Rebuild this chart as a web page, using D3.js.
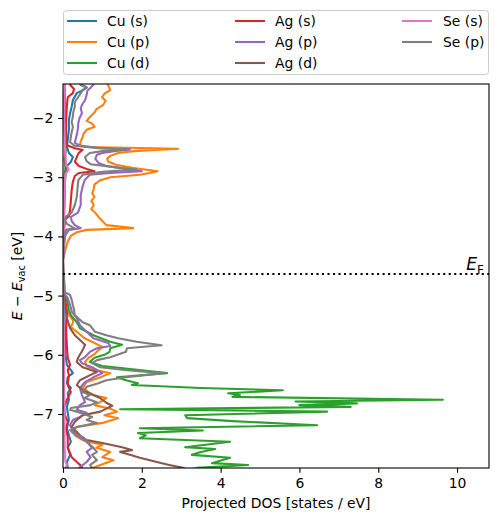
<!DOCTYPE html>
<html><head><meta charset="utf-8">
<script src="https://cdn.jsdelivr.net/npm/d3@7"></script>
<style>
body{margin:0;background:#fff;}
svg text{font-family:"DejaVu Sans",sans-serif;fill:#000;}
</style></head><body>
<svg id="chart" width="498" height="522"></svg>
<script>
// ---------------- data (energy in eV, projected DOS in states/eV) ----------------
const seriesNames  = ["Cu (s)","Cu (p)","Cu (d)","Ag (s)","Ag (p)","Ag (d)","Se (s)","Se (p)"];
const seriesColors = ["#1f77b4","#ff7f0e","#2ca02c","#d62728","#9467bd","#8c564b","#e377c2","#7f7f7f"];
const xTicks = [0,2,4,6,8,10];
const yTicks = [-7,-6,-5,-4,-3,-2];
const xDomain = [0, 10.81];
const yDomain = [-7.912, -1.426];
const fermiLevel = -4.635;

const cuS_E   = [-1.38,-1.44,-1.49,-1.53,-1.58,-1.70,-1.81,-1.92,-2.03,-2.20,-2.37,-2.49,-2.59,-2.66,-2.74,-2.83,-2.91,-3.05,-3.39,-3.89,-4.40,
                 -4.94,-5.07,-5.41,-5.75,-6.00,-6.17,-6.26,-6.31,-6.38,-6.48,-6.56,-6.65,-6.76,-6.88,-6.98,-7.10,-7.24,-7.36,-7.47,-7.57,-7.69,-7.81,-7.91,-7.98];
const cuS_dos = [0.40,0.45,0.60,0.50,0.35,0.25,0.22,0.18,0.15,0.15,0.12,0.10,0.15,0.25,0.20,0.08,0.05,0.03,0.03,0.02,0.00,
                 0.00,0.02,0.04,0.05,0.06,0.10,0.20,0.25,0.12,0.10,0.20,0.12,0.15,0.10,0.12,0.15,0.10,0.15,0.20,0.12,0.18,0.10,0.12,0.10];

const cuP_E   = [-1.36,-1.44,-1.53,-1.59,-1.65,-1.71,-1.78,-1.85,-1.90,-1.98,-2.05,-2.10,-2.15,-2.20,-2.27,-2.32,-2.39,-2.46,-2.49,-2.52,-2.56,-2.59,-2.64,-2.69,-2.74,-2.79,-2.84,-2.90,-2.93,-2.96,-3.00,-3.05,-3.12,-3.20,-3.27,-3.33,-3.40,-3.47,-3.54,-3.60,-3.67,-3.74,-3.81,-3.86,-3.89,-3.93,-3.99,-4.09,-4.23,-4.40,
                 -4.94,-5.07,-5.24,-5.33,-5.41,-5.46,-5.53,-5.61,-5.72,-5.80,-5.87,-5.92,-5.99,-6.05,-6.12,-6.19,-6.26,-6.31,-6.38,-6.46,-6.56,-6.63,-6.68,-6.73,-6.80,-6.85,-6.91,-6.96,-7.02,-7.07,-7.15,-7.22,-7.27,-7.36,-7.44,-7.47,-7.52,-7.57,-7.64,-7.73,-7.78,-7.86,-7.91,-7.98];
const cuP_dos = [1.10,1.14,1.20,1.05,0.99,1.08,1.02,0.85,0.81,0.69,0.60,0.75,0.80,0.60,0.52,0.50,0.45,0.43,0.60,2.92,1.80,1.40,1.20,1.12,1.15,1.35,1.75,2.40,2.20,1.95,1.20,0.95,0.80,0.78,0.74,0.80,0.72,0.78,0.72,0.82,0.90,1.00,1.10,1.78,0.60,0.35,0.20,0.12,0.06,0.00,
                 0.00,0.05,0.10,0.15,0.25,0.25,0.20,0.35,0.55,0.80,1.00,0.90,0.80,0.65,0.56,0.60,0.86,1.20,0.95,0.60,0.50,0.65,0.77,1.10,0.94,0.80,1.20,1.37,1.05,1.40,1.00,0.35,0.25,0.30,0.50,0.65,1.00,0.85,1.20,1.00,1.28,0.95,0.75,0.70];

const cuD_E   = [-1.38,-1.80,-2.20,-2.52,-2.70,-2.90,-3.20,-3.60,-4.00,-4.40,
                 -4.91,-4.99,-5.07,-5.24,-5.33,-5.45,-5.55,-5.67,-5.78,-5.83,-5.89,-5.95,-6.00,-6.05,-6.12,-6.19,-6.26,-6.31,-6.38,-6.43,-6.48,-6.51,-6.56,-6.60,-6.65,-6.68,-6.71,-6.76,-6.79,-6.82,-6.85,-6.88,-6.92,-6.96,-7.02,-7.07,-7.12,-7.19,-7.24,-7.28,-7.32,-7.36,-7.41,-7.47,-7.56,-7.59,-7.64,-7.69,-7.74,-7.83,-7.86,-7.91,-7.98];
const cuD_dos = [0.05,0.04,0.04,0.07,0.05,0.07,0.04,0.03,0.02,0.00,
                 0.00,0.05,0.10,0.15,0.20,0.35,0.43,0.77,1.20,1.50,1.20,1.18,1.05,0.80,0.68,1.00,2.00,2.64,1.37,1.60,1.90,1.75,3.50,5.58,4.19,4.49,4.30,9.64,5.90,7.46,6.00,7.30,1.45,6.70,3.10,3.15,4.30,6.45,1.95,3.55,1.90,2.10,1.95,4.24,3.10,3.86,3.50,3.27,4.24,3.78,4.70,3.40,3.00];

const agS_E   = [-1.36,-1.44,-1.51,-1.58,-1.65,-1.78,-2.03,-2.29,-2.46,-2.51,-2.54,-2.59,-2.66,-2.74,-2.81,-2.86,-2.90,-2.93,-2.98,-3.08,-3.22,-3.39,-3.55,-3.66,-3.72,-3.89,-4.15,-4.40,
                 -4.94,-5.07,-5.29,-5.58,-5.87,-6.05,-6.17,-6.26,-6.34,-6.51,-6.63,-6.76,-6.88,-7.02,-7.13,-7.24,-7.39,-7.56,-7.66,-7.73,-7.81,-7.88,-7.95];
const agS_dos = [0.20,0.18,0.28,0.25,0.12,0.10,0.08,0.08,0.10,0.30,0.50,0.40,0.35,0.30,0.40,0.60,0.80,0.40,0.30,0.25,0.22,0.20,0.18,0.15,0.05,0.03,0.02,0.00,
                 0.00,0.05,0.10,0.08,0.10,0.12,0.18,0.12,0.15,0.12,0.20,0.10,0.03,0.05,0.12,0.08,0.12,0.12,0.18,0.22,0.35,0.47,0.50];

const agP_E   = [-1.36,-1.44,-1.49,-1.54,-1.61,-1.70,-1.76,-1.83,-1.92,-2.00,-2.08,-2.17,-2.25,-2.34,-2.42,-2.47,-2.51,-2.53,-2.56,-2.59,-2.62,-2.69,-2.76,-2.81,-2.86,-2.90,-2.93,-2.96,-3.05,-3.15,-3.30,-3.47,-3.60,-3.67,-3.74,-3.81,-3.86,-3.89,-3.98,-4.15,-4.40,
                 -4.94,-5.04,-5.16,-5.28,-5.38,-5.50,-5.61,-5.72,-5.80,-5.85,-5.89,-5.95,-6.04,-6.09,-6.14,-6.22,-6.31,-6.38,-6.46,-6.56,-6.68,-6.80,-6.85,-6.93,-6.98,-7.05,-7.10,-7.19,-7.27,-7.36,-7.47,-7.57,-7.64,-7.73,-7.81,-7.90,-7.98];
const agP_dos = [0.80,0.77,0.70,0.62,0.60,0.56,0.50,0.45,0.48,0.42,0.39,0.38,0.36,0.33,0.30,0.45,1.00,1.70,1.30,1.00,0.86,0.82,0.90,1.10,1.60,2.00,1.20,0.68,0.55,0.50,0.45,0.45,0.38,0.20,0.22,0.30,0.45,0.15,0.06,0.03,0.00,
                 0.00,0.12,0.18,0.23,0.35,0.43,0.60,0.77,1.15,1.20,0.86,0.68,0.56,0.43,0.48,0.77,1.00,0.77,0.56,0.43,0.48,0.56,0.43,0.35,0.60,0.43,0.25,0.18,0.25,0.35,0.60,0.74,0.60,0.70,0.60,0.43,0.30];

const agD_E   = [-1.38,-1.90,-2.20,-2.53,-2.70,-2.88,-3.00,-3.40,-3.90,-4.40,
                 -4.94,-4.99,-5.16,-5.38,-5.55,-5.67,-5.75,-5.83,-5.92,-6.04,-6.12,-6.21,-6.29,-6.34,-6.43,-6.51,-6.60,-6.68,-6.73,-6.81,-6.86,-6.91,-6.96,-7.02,-7.13,-7.22,-7.27,-7.36,-7.44,-7.49,-7.56,-7.61,-7.64,-7.69,-7.74,-7.81,-7.86,-7.91,-7.98];
const agD_dos = [0.05,0.04,0.06,0.06,0.04,0.08,0.04,0.03,0.02,0.00,
                 0.00,0.02,0.05,0.10,0.18,0.30,0.43,0.56,0.50,0.39,0.35,0.50,0.86,0.70,0.43,0.35,0.50,0.77,0.94,1.10,1.25,1.10,0.95,0.50,0.30,0.22,0.30,0.43,0.60,1.00,1.50,1.75,1.45,1.70,1.95,2.38,2.70,3.05,3.30];

const seS_E   = [-1.38,-1.60,-2.00,-2.50,-2.80,-2.87,-2.95,-3.30,-3.90,-4.40,
                 -4.94,-5.50,-6.00,-6.50,-7.00,-7.50,-7.80,-7.86,-7.93,-7.98];
const seS_dos = [0.05,0.04,0.03,0.05,0.08,0.15,0.06,0.03,0.02,0.00,
                 0.00,0.02,0.03,0.03,0.04,0.04,0.06,0.10,0.05,0.04];

const seP_E   = [-1.36,-1.43,-1.48,-1.53,-1.58,-1.65,-1.73,-1.81,-1.90,-1.98,-2.07,-2.15,-2.24,-2.32,-2.41,-2.47,-2.51,-2.53,-2.56,-2.59,-2.66,-2.73,-2.78,-2.83,-2.87,-2.91,-2.96,-3.05,-3.18,-3.33,-3.47,-3.60,-3.66,-3.72,-3.79,-3.86,-3.89,-3.99,-4.15,-4.40,
                 -4.94,-4.99,-5.07,-5.16,-5.24,-5.33,-5.45,-5.50,-5.61,-5.67,-5.72,-5.78,-5.84,-5.89,-5.95,-6.04,-6.09,-6.14,-6.21,-6.26,-6.31,-6.38,-6.43,-6.48,-6.54,-6.63,-6.68,-6.73,-6.80,-6.85,-6.90,-6.93,-6.98,-7.05,-7.10,-7.15,-7.22,-7.27,-7.32,-7.39,-7.52,-7.57,-7.64,-7.69,-7.78,-7.86,-7.95];
const seP_dos = [0.55,0.45,0.60,0.50,0.45,0.38,0.30,0.30,0.26,0.25,0.22,0.25,0.22,0.20,0.18,0.30,0.90,1.60,1.00,0.68,0.56,0.60,0.70,1.30,1.87,1.00,0.50,0.39,0.37,0.35,0.30,0.22,0.08,0.05,0.10,0.28,0.08,0.03,0.01,0.00,
                 0.05,0.18,0.22,0.25,0.28,0.30,0.50,0.68,0.81,1.10,1.40,1.87,2.50,1.62,1.60,1.20,0.86,0.74,0.94,1.62,2.54,1.60,1.10,0.90,0.60,0.50,0.68,0.55,0.86,0.70,0.20,0.18,0.43,0.74,0.60,0.86,0.35,0.18,0.25,0.50,0.69,0.77,0.86,0.74,0.86,0.69,0.77];

const seriesEnergies = [cuS_E, cuP_E, cuD_E, agS_E, agP_E, agD_E, seS_E, seP_E];
const seriesDos      = [cuS_dos, cuP_dos, cuD_dos, agS_dos, agP_dos, agD_dos, seS_dos, seP_dos];

// ---------------- layout ----------------
const L = 63, R = 489, T = 84, B = 468;
const LW = 2.08;            // 1.5 pt at 100 dpi
const svg = d3.select("#chart");
const x = d3.scaleLinear().domain(xDomain).range([L, R]);
const y = d3.scaleLinear().domain(yDomain).range([B, T]);

svg.append("defs").append("clipPath").attr("id","plotclip")
  .append("rect").attr("x",L).attr("y",T).attr("width",R-L).attr("height",B-T);

const lineGen = d3.line().x(d => x(d[1])).y(d => y(d[0]));
const plot = svg.append("g").attr("clip-path","url(#plotclip)");
seriesNames.forEach((name,i) => {
  const E = seriesEnergies[i], D = seriesDos[i];
  const n = Math.min(E.length, D.length);
  const pts = d3.range(n).map(k => [E[k], D[k]]);
  plot.append("path").datum(pts)
    .attr("d", lineGen)
    .attr("fill","none")
    .attr("stroke", seriesColors[i])
    .attr("stroke-width",LW)
    .attr("stroke-linejoin","round");
});

// Fermi level
plot.append("line")
  .attr("x1",L).attr("x2",R).attr("y1",y(fermiLevel)).attr("y2",y(fermiLevel))
  .attr("stroke","#000").attr("stroke-width",LW).attr("stroke-dasharray","2.08,3.43");

const ef = svg.append("text").attr("x",484).attr("y",y(fermiLevel)-3.5)
  .attr("text-anchor","end").style("font-size","17px");
ef.append("tspan").attr("font-style","italic").text("E");
ef.append("tspan").attr("dy",3.5).style("font-size","12px").text("F");

// axes
const tickLen = 4.86, tickPad = 4.86;
const xAxis = svg.append("g").attr("transform",`translate(0,${B})`)
  .call(d3.axisBottom(x).tickValues(xTicks).tickSize(tickLen).tickPadding(tickPad).tickFormat(d3.format("d")));
const yAxis = svg.append("g").attr("transform",`translate(${L},0)`)
  .call(d3.axisLeft(y).tickValues(yTicks).tickSize(tickLen).tickPadding(tickPad).tickFormat(d3.format("d")));
[xAxis,yAxis].forEach(g => {
  g.select(".domain").remove();
  g.selectAll(".tick line").attr("stroke","#000").attr("stroke-width",1.1);
  g.selectAll(".tick text").style("font-size","13.9px").style("font-family","DejaVu Sans").attr("fill","#000");
});

// spines
svg.append("rect").attr("x",L).attr("y",T).attr("width",R-L).attr("height",B-T)
  .attr("fill","none").attr("stroke","#000").attr("stroke-width",1.1);

// axis labels
svg.append("text").attr("x",(L+R)/2).attr("y",508).attr("text-anchor","middle")
  .style("font-size","13.9px").text("Projected DOS [states / eV]");

const yl = svg.append("text").attr("transform",`translate(22,${(T+B)/2}) rotate(-90)`)
  .attr("text-anchor","middle").style("font-size","13.9px");
yl.append("tspan").attr("font-style","italic").text("E");
yl.append("tspan").text(" − ");
yl.append("tspan").attr("font-style","italic").text("E");
yl.append("tspan").attr("dy",3).style("font-size","9.7px").text("vac");
yl.append("tspan").attr("dy",-3).text(" [eV]");

// legend
const leg = svg.append("g");
leg.append("rect").attr("x",63.5).attr("y",10.5).attr("width",425).attr("height",64)
  .attr("rx",3).attr("fill","#fff").attr("fill-opacity",0.8).attr("stroke","#cccccc").attr("stroke-width",1);
const colHandleX = [67, 235, 402];
const colTextX   = [107, 275, 443];
const rowY       = [21, 42, 63];
const legendCols = [[0,1,2],[3,4,5],[6,7]];
legendCols.forEach((col,ci) => col.forEach((si,ri) => {
  leg.append("line").attr("x1",colHandleX[ci]).attr("x2",colHandleX[ci]+30)
    .attr("y1",rowY[ri]).attr("y2",rowY[ri])
    .attr("stroke",seriesColors[si]).attr("stroke-width",LW);
  leg.append("text").attr("x",colTextX[ci]).attr("y",rowY[ri]+5)
    .style("font-size","13.9px").text(seriesNames[si]);
}));
</script>
</body></html>
